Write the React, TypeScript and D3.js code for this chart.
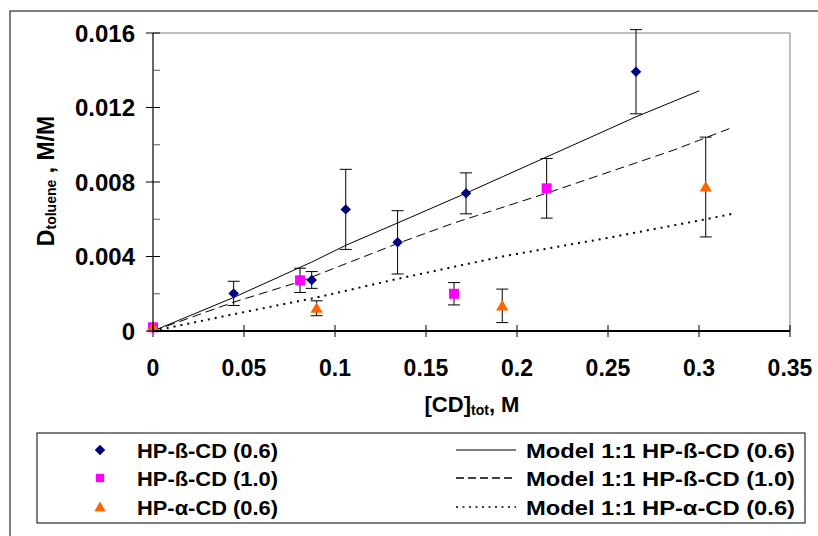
import React from "react";
import * as d3 from "d3";

const betaX06 = [0, 0.0443, 0.0872, 0.1059, 0.1344, 0.172, 0.2654];
const betaY06 = [0.0002, 0.00202, 0.00274, 0.00653, 0.00476, 0.00739, 0.01392];
const betaE06 = [0, 0.00065, 0.00045, 0.00215, 0.0017, 0.0011, 0.00226];

const betaX10 = [0, 0.0808, 0.1654, 0.2163];
const betaY10 = [0.0002, 0.00272, 0.002, 0.00766];
const betaE10 = [0, 0.00065, 0.0006, 0.0016];

const alphaX06 = [0, 0.0899, 0.1919, 0.3037];
const alphaY06 = [0.0002, 0.00122, 0.00135, 0.00773];
const alphaE06 = [0, 0.0004, 0.0009, 0.00268];

const modelBeta06X = [0, 0.0443, 0.0872, 0.1059, 0.1344, 0.172, 0.2654, 0.3002];
const modelBeta06Y = [0, 0.0018, 0.0037, 0.0046, 0.0058, 0.0074, 0.0115, 0.0129];
const modelBeta10X = [0, 0.0443, 0.0808, 0.1344, 0.1654, 0.2163, 0.2857, 0.3176];
const modelBeta10Y = [0, 0.00155, 0.00265, 0.0047, 0.0058, 0.0074, 0.0097, 0.0109];
const modelAlphaX = [0, 0.0443, 0.0899, 0.1344, 0.1919, 0.25, 0.3037, 0.3189];
const modelAlphaY = [0, 0.0009, 0.0018, 0.0028, 0.004, 0.005, 0.006, 0.0063];

const xTicks = [0, 0.05, 0.1, 0.15, 0.2, 0.25, 0.3, 0.35];
const xTickLabels = ["0", "0.05", "0.1", "0.15", "0.2", "0.25", "0.3", "0.35"];
const yTicks = [0, 0.004, 0.008, 0.012, 0.016];
const yTickLabels = ["0", "0.004", "0.008", "0.012", "0.016"];
const yMinorTicks = [0.002, 0.006, 0.01, 0.014];

const legendLeft = ["HP-ß-CD (0.6)", "HP-ß-CD (1.0)", "HP-α-CD (0.6)"];
const legendRight = ["Model 1:1 HP-ß-CD (0.6)", "Model 1:1 HP-ß-CD (1.0)", "Model 1:1 HP-α-CD (0.6)"];

const FONT = "'Liberation Sans', Arial, sans-serif";

export default function App() {
  const x = d3.scaleLinear().domain([0, 0.35]).range([153, 790]);
  const y = d3.scaleLinear().domain([0, 0.016]).range([331, 33]);
  const line = d3.line<[number, number]>().x((d) => x(d[0])).y((d) => y(d[1]));
  const zip = (a: number[], b: number[]) => a.map((v, i) => [v, b[i]] as [number, number]);

  const diamond = d3.symbol().type(d3.symbolDiamond2).size(70)()!;
  const square = d3.symbol().type(d3.symbolSquare).size(100)()!;
  const triangle = d3.symbol().type(d3.symbolTriangle).size(65)()!;

  const errBars = (xs: number[], ys: number[], es: number[], key: string) =>
    xs.map((xv, i) =>
      es[i] > 0 ? (
        <g key={key + i} stroke="#000" strokeWidth={1}>
          <line x1={x(xv)} x2={x(xv)} y1={y(ys[i] + es[i])} y2={y(ys[i] - es[i])} />
          <line x1={x(xv) - 6} x2={x(xv) + 6} y1={y(ys[i] + es[i])} y2={y(ys[i] + es[i])} />
          <line x1={x(xv) - 6} x2={x(xv) + 6} y1={y(ys[i] - es[i])} y2={y(ys[i] - es[i])} />
        </g>
      ) : null
    );

  const lgRows = [450, 478, 507];

  return (
    <svg width={818} height={536} style={{ position: "absolute", left: 0, top: 0, background: "#fff" }} fontFamily={FONT}>
      <rect x={0} y={0} width={818} height={536} fill="#fff" />
      <rect x={10} y={11} width={830} height={540} fill="none" stroke="#000" strokeWidth={1} />

      {/* plot frame */}
      <line x1={153} x2={790} y1={33} y2={33} stroke="#808080" strokeWidth={1} />
      <line x1={790} x2={790} y1={33} y2={331} stroke="#808080" strokeWidth={1} />

      {/* model lines */}
      <path d={line(zip(modelBeta06X, modelBeta06Y))!} fill="none" stroke="#000" strokeWidth={1} />
      <path d={line(zip(modelBeta10X, modelBeta10Y))!} fill="none" stroke="#000" strokeWidth={1} strokeDasharray="9,5" />
      <path d={line(zip(modelAlphaX, modelAlphaY))!} fill="none" stroke="#000" strokeWidth={2} strokeDasharray="2,5" />

      {/* error bars */}
      {errBars(betaX06, betaY06, betaE06, "a")}
      {errBars(betaX10, betaY10, betaE10, "b")}
      {errBars(alphaX06, alphaY06, alphaE06, "c")}

      {/* markers */}
      {betaX06.map((xv, i) => (
        <path key={"d" + i} d={diamond} transform={`translate(${x(xv)},${y(betaY06[i])})`} fill="#000080" />
      ))}
      {betaX10.map((xv, i) => (
        <path key={"s" + i} d={square} transform={`translate(${x(xv)},${y(betaY10[i])})`} fill="#FF00FF" />
      ))}
      {alphaX06.map((xv, i) => (
        <path key={"t" + i} d={triangle} transform={`translate(${x(xv)},${y(alphaY06[i]) + 1})`} fill="#FF6600" />
      ))}

      {/* axes */}
      <line x1={153} x2={153} y1={33} y2={331} stroke="#000" strokeWidth={1.2} />
      <line x1={153} x2={790} y1={331} y2={331} stroke="#000" strokeWidth={2} />
      {yTicks.map((t, i) => (
        <g key={"yt" + i}>
          <line x1={146} x2={160} y1={y(t)} y2={y(t)} stroke="#000" strokeWidth={1} />
          <text x={135} y={y(t)} dy="0.36em" textAnchor="end" fontSize={24} fontWeight="bold">
            {yTickLabels[i]}
          </text>
        </g>
      ))}
      {yMinorTicks.map((t, i) => (
        <line key={"ym" + i} x1={153} x2={160} y1={y(t)} y2={y(t)} stroke="#555" strokeWidth={1} />
      ))}
      {xTicks.map((t, i) => (
        <g key={"xt" + i}>
          <line x1={x(t)} x2={x(t)} y1={325} y2={337} stroke="#000" strokeWidth={1} />
          <text x={x(t)} y={376} textAnchor="middle" fontSize={23} fontWeight="bold">
            {xTickLabels[i]}
          </text>
        </g>
      ))}

      {/* axis titles */}
      <text x={472} y={412} textAnchor="middle" fontSize={22} fontWeight="bold">
        [CD]<tspan fontSize={14} dy={3}>tot</tspan>
        <tspan dy={-3}>, M</tspan>
      </text>
      <text transform="translate(54,181) rotate(-90)" textAnchor="middle" fontSize={23} fontWeight="bold">
        D<tspan fontSize={14} dy={2}>toluene</tspan>
        <tspan dy={-2}> , M/M</tspan>
      </text>

      {/* legend */}
      <rect x={37} y={433} width={768} height={90} fill="#fff" stroke="#000" strokeWidth={1} />
      <path d={diamond} transform={`translate(100,${lgRows[0]})`} fill="#000080" />
      <path d={d3.symbol().type(d3.symbolSquare).size(70)()!} transform={`translate(100,${lgRows[1]})`} fill="#FF00FF" />
      <path d={d3.symbol().type(d3.symbolTriangle).size(55)()!} transform={`translate(100,${lgRows[2] + 1})`} fill="#FF6600" />
      {legendLeft.map((s, i) => (
        <text key={"ll" + i} x={137} y={lgRows[i]} dy="0.36em" fontSize={21} fontWeight="bold" textLength={141} lengthAdjust="spacingAndGlyphs">
          {s}
        </text>
      ))}
      <line x1={456} x2={516} y1={lgRows[0]} y2={lgRows[0]} stroke="#000" strokeWidth={1} />
      <line x1={456} x2={516} y1={lgRows[1]} y2={lgRows[1]} stroke="#000" strokeWidth={1.5} strokeDasharray="8,4" />
      <line x1={456} x2={516} y1={lgRows[2]} y2={lgRows[2]} stroke="#000" strokeWidth={1.5} strokeDasharray="2,4.5" />
      {legendRight.map((s, i) => (
        <text key={"lr" + i} x={526} y={lgRows[i]} dy="0.36em" fontSize={21} fontWeight="bold" textLength={269} lengthAdjust="spacingAndGlyphs">
          {s}
        </text>
      ))}
    </svg>
  );
}
